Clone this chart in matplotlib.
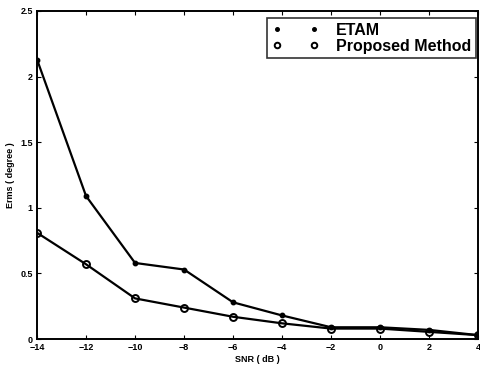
import matplotlib
matplotlib.use('Agg')
import matplotlib.pyplot as plt

snr = [-14, -12, -10, -8, -6, -4, -2, 0, 2, 4]
etam = [2.13, 1.09, 0.58, 0.53, 0.28, 0.18, 0.09, 0.09, 0.07, 0.03]
proposed = [0.81, 0.57, 0.31, 0.24, 0.17, 0.12, 0.08, 0.08, 0.055, 0.03]

plt.rcParams['font.family'] = ['Liberation Sans', 'DejaVu Sans']

fig = plt.figure(figsize=(4.81, 3.65), dpi=100)
ax = fig.add_axes([0.077, 0.071, 0.917, 0.899])

ax.plot(snr, etam, c='black', lw=1.6)
ax.plot(snr, proposed, c='black', lw=1.6)
ax.plot(snr, etam, ls='none', marker='o', ms=3.2, mfc='black', mec='black', label='ETAM')
ax.plot(snr, proposed, ls='none', marker='o', ms=5, mfc='none', mec='black', mew=1.4,
        label='Proposed Method')

ax.set_xlim(-14, 4)
ax.set_ylim(0, 2.5)
ax.set_xticks(snr)
ax.set_xticklabels(['\u221214', '\u221212', '\u221210', '\u22128', '\u22126', '\u22124',
                    '\u22122', '0', '2', '4'])
ax.set_yticks([0, 0.5, 1, 1.5, 2, 2.5])
ax.set_yticklabels(['0', '0.5', '1', '1.5', '2', '2.5'])
ax.tick_params(direction='in', length=3, labelsize=6.5, top=True, right=True, pad=3)
for lab in ax.get_xticklabels() + ax.get_yticklabels():
    lab.set_fontweight('bold')
for s in ax.spines.values():
    s.set_linewidth(1.4)

ax.set_xlabel('SNR ( dB )', fontsize=6.5, fontweight='bold', labelpad=2)
ax.set_ylabel('Erms ( degree )', fontsize=6.5, fontweight='bold', labelpad=4)

leg = ax.legend(loc='upper right', bbox_to_anchor=(476 / 481, 1 - 18 / 365),
                bbox_transform=fig.transFigure, borderaxespad=0,
                numpoints=2, frameon=True, fancybox=False, edgecolor='black',
                prop={'size': 11.5, 'weight': 'bold'}, markerscale=0.8,
                handlelength=2.9, handletextpad=1.1, labelspacing=0.05, borderpad=0.3)
leg.get_frame().set_linewidth(1.2)

fig.savefig('out.png', dpi=100)
